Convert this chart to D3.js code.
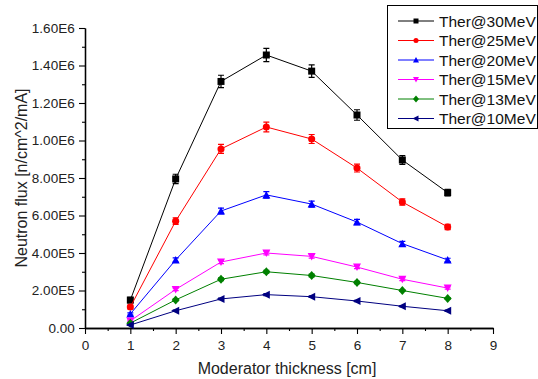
<!DOCTYPE html>
<html>
<head>
<meta charset="utf-8">
<script src="https://cdn.jsdelivr.net/npm/d3@7"></script>
<style>
  body { margin: 0; background: #fff; }
  svg { font-family: "Liberation Sans", Arial, sans-serif; }
</style>
</head>
<body>
<div id="chart"></div>
<script>
// thickness in cm
const thickness = [1, 2, 3, 4, 5, 6, 7, 8];
const seriesNames = ["Ther@30MeV", "Ther@25MeV", "Ther@20MeV", "Ther@15MeV", "Ther@13MeV", "Ther@10MeV"];
const flux30 = [1.49e5, 7.95e5, 1.315e6, 1.456e6, 1.37e6, 1.136e6, 8.96e5, 7.22e5];
const flux25 = [1.12e5, 5.7e5, 9.55e5, 1.072e6, 1.008e6, 8.53e5, 6.72e5, 5.39e5];
const flux20 = [7.5e4, 3.63e5, 6.24e5, 7.1e5, 6.61e5, 5.65e5, 4.5e5, 3.63e5];
const flux15 = [3.8e4, 2.06e5, 3.52e5, 4.0e5, 3.82e5, 3.25e5, 2.6e5, 2.13e5];
const flux13 = [2.6e4, 1.5e5, 2.6e5, 3.0e5, 2.8e5, 2.43e5, 2.0e5, 1.58e5];
const flux10 = [1.6e4, 9.2e4, 1.55e5, 1.78e5, 1.67e5, 1.44e5, 1.16e5, 9.2e4];
const err30 = [1.5e4, 2.5e4, 3.3e4, 3.5e4, 3.3e4, 2.8e4, 2.3e4, 1.8e4];
const err25 = [1.0e4, 1.8e4, 2.4e4, 2.6e4, 2.4e4, 2.1e4, 1.7e4, 1.4e4];
const err20 = [6e3, 1.1e4, 1.5e4, 1.7e4, 1.6e4, 1.4e4, 1.2e4, 9e3];
const err15 = [4e3, 7e3, 9e3, 1.0e4, 9e3, 8e3, 7e3, 6e3];
const err13 = [3e3, 5e3, 7e3, 8e3, 7e3, 6e3, 5e3, 4e3];
const err10 = [2e3, 3e3, 4e3, 5e3, 4e3, 4e3, 3e3, 3e3];
const yTickLabels = ["0.00", "2.00E5", "4.00E5", "6.00E5", "8.00E5", "1.00E6", "1.20E6", "1.40E6", "1.60E6"];

const colors = ["#000000", "#ff0000", "#0000ff", "#ff00ff", "#008000", "#000080"];
const symbols = ["square", "circle", "up", "down", "diamond", "left"];
const fluxes = [flux30, flux25, flux20, flux15, flux13, flux10];
const errs = [err30, err25, err20, err15, err13, err10];

const W = 538, H = 379;
const margin = { top: 28, right: 45, bottom: 51, left: 85 };
const width = W - margin.left - margin.right;
const height = H - margin.top - margin.bottom;

const svg = d3.select("#chart").append("svg")
  .attr("width", W).attr("height", H);
const g = svg.append("g").attr("transform", `translate(${margin.left},${margin.top})`);

const x = d3.scaleLinear().domain([0, 9]).range([0, width]);
const y = d3.scaleLinear().domain([0, 1.6e6]).range([height, 0]);

// axes
const xAxis = g.append("g").attr("transform", `translate(0,${height})`)
  .call(d3.axisBottom(x).tickValues(d3.range(0, 10)).tickSize(6).tickSizeOuter(0).tickFormat(d3.format("d")));
g.append("g").attr("transform", `translate(0,${height})`)
  .call(d3.axisBottom(x).tickValues(d3.range(0.5, 9, 1)).tickSize(3).tickSizeOuter(0).tickFormat(""));
const yAxis = g.append("g")
  .call(d3.axisLeft(y).tickValues(d3.range(0, 1.6e6 + 1, 2e5)).tickSize(6).tickSizeOuter(0)
    .tickFormat((d, i) => yTickLabels[i]));
g.append("g")
  .call(d3.axisLeft(y).tickValues(d3.range(1e5, 1.6e6, 2e5)).tickSize(3).tickSizeOuter(0).tickFormat(""));

g.selectAll(".domain").attr("stroke", "#000").attr("stroke-width", 1.3);
g.selectAll(".tick line").attr("stroke", "#000").attr("stroke-width", 1.1);
xAxis.selectAll("text").attr("font-size", 13.5).attr("fill", "#222").attr("dy", "0.95em");
yAxis.selectAll("text").attr("font-size", 13.5).attr("fill", "#222").attr("dx", "-0.1em");

svg.append("text")
  .attr("x", margin.left + x(4.5) - 2).attr("y", 374)
  .attr("text-anchor", "middle").attr("font-size", 16).attr("fill", "#222")
  .text("Moderator thickness [cm]");
svg.append("text")
  .attr("transform", `translate(27,${margin.top + height / 2}) rotate(-90)`)
  .attr("text-anchor", "middle").attr("font-size", 16).attr("fill", "#222")
  .text("Neutron flux [n/cm^2/mA]");

function symbolPath(kind, s) {
  const h = s / 2;
  switch (kind) {
    case "square": return `M${-h},${-h}H${h}V${h}H${-h}Z`;
    case "circle": return d3.symbol(d3.symbolCircle, s * s * 0.8)();
    case "up": return `M0,${-h - 0.5}L${h + 0.5},${h}L${-h - 0.5},${h}Z`;
    case "down": return `M0,${h + 0.5}L${h + 0.5},${-h}L${-h - 0.5},${-h}Z`;
    case "diamond": return `M0,${-h - 1}L${h + 0.5},0L0,${h + 1}L${-h - 0.5},0Z`;
    case "left": return `M${-h - 1},0L${h},${-h - 0.5}L${h},${h + 0.5}Z`;
  }
}

const line = d3.line().x(d => x(d[0])).y(d => y(d[1]));

fluxes.forEach((vals, si) => {
  const pts = thickness.map((t, i) => [t, vals[i], errs[si][i]]);
  const sg = g.append("g");
  sg.append("path").datum(pts).attr("d", line)
    .attr("fill", "none").attr("stroke", colors[si]).attr("stroke-width", 1);
  // error bars
  pts.forEach(p => {
    const cx = x(p[0]), y1 = y(p[1] + p[2]), y0 = y(p[1] - p[2]);
    sg.append("path")
      .attr("d", `M${cx},${y1}V${y0}M${cx - 3},${y1}H${cx + 3}M${cx - 3},${y0}H${cx + 3}`)
      .attr("stroke", colors[si]).attr("stroke-width", 1.2).attr("fill", "none");
  });
  sg.selectAll(".m").data(pts).enter().append("path")
    .attr("transform", d => `translate(${x(d[0])},${y(d[1])})`)
    .attr("d", symbolPath(symbols[si], 7))
    .attr("fill", colors[si]);
});

// legend
const lg = svg.append("g").attr("transform", "translate(387,5)");
lg.append("rect").attr("x", 0.5).attr("y", 0.5).attr("width", 150).attr("height", 123)
  .attr("fill", "#fff").attr("stroke", "#000").attr("stroke-width", 1);
seriesNames.forEach((name, i) => {
  const ry = 16 + i * 19.5;
  lg.append("line").attr("x1", 11).attr("x2", 47).attr("y1", ry).attr("y2", ry)
    .attr("stroke", colors[i]).attr("stroke-width", 1);
  lg.append("path").attr("transform", `translate(29,${ry})`)
    .attr("d", symbolPath(symbols[i], 5)).attr("fill", colors[i]);
  lg.append("text").attr("x", 52).attr("y", ry + 5.5)
    .attr("font-size", 15.5).attr("fill", "#111").text(name);
});
</script>
</body>
</html>
